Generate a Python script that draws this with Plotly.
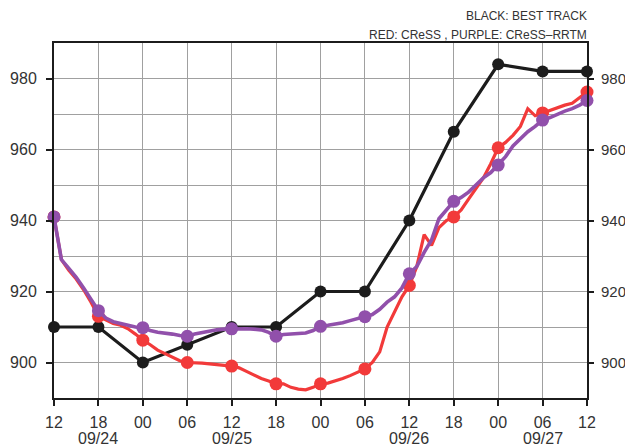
import plotly.graph_objects as go

# hours since 09/24 12UTC
hours = list(range(0, 73))
best_hours = list(range(0, 73, 6))
best_track = [910, 910, 900, 905, 910, 910, 920, 920, 940, 965, 984, 982, 982]

cress = [941, 929, 926, 923.5, 920.5, 917, 913,
         912, 911, 910.5, 909.5, 908, 906.3,
         905, 903.5, 902.5, 901.5, 900.5, 900,
         900, 899.8, 899.6, 899.5, 899.2, 899,
         898.5, 897.5, 896.5, 895.5, 894.8, 894,
         894, 893, 892.5, 892.3, 893, 894,
         894.2, 894.8, 895.5, 896.3, 897.2, 898.2,
         900, 903, 910, 914.5, 918.5, 921.7,
         927, 936, 933, 938, 940, 941,
         943, 946, 949, 952, 956, 960.5,
         962, 964, 966.5, 971.5, 969.5, 970.3,
         971, 971.8, 972.5, 973, 974.5, 976.2]

cress_rrtm = [941, 929, 926.5, 924, 921, 918, 914.6,
              912.5, 911.5, 911, 910.5, 910, 909.8,
              909, 908.5, 908.3, 908, 907.6, 907.4,
              908, 908.4, 909, 909.2, 909.4, 909.5,
              909.6, 909.5, 909.4, 909.2, 908.5, 907.4,
              907.9, 908, 908.1, 908.3, 909, 910.2,
              910.5, 910.8, 911.2, 911.8, 912.3, 912.9,
              913.5, 915, 917, 918.5, 921, 925,
              927, 931, 934.5, 940.5, 943, 945.4,
              946.5, 948, 950, 952, 953.5, 955.6,
              958, 961, 963, 965, 966.5, 968.3,
              969, 970, 970.8, 971.5, 972.5, 973.8]

tick_labels = ["12", "18", "00", "06", "12", "18", "00", "06", "12", "18", "00", "06", "12"]
date_labels = ["09/24", "09/25", "09/26", "09/27"]
date_hours = [6, 24, 48, 66]
y_ticks = [900, 920, 940, 960, 980]
y_minor = [910, 930, 950, 970]

BLACK = "#1c1c1c"
RED = "#f23a3a"
PURPLE = "#9150ab"

fig = go.Figure()
fig.add_trace(go.Scatter(x=best_hours, y=best_track, mode="lines+markers",
                         line=dict(color=BLACK, width=3.2),
                         marker=dict(color=BLACK, size=12), cliponaxis=False))
fig.add_trace(go.Scatter(x=hours, y=cress, mode="lines",
                         line=dict(color=RED, width=3.2), cliponaxis=False))
fig.add_trace(go.Scatter(x=hours[::6], y=cress[::6], mode="markers",
                         marker=dict(color=RED, size=13), cliponaxis=False))
fig.add_trace(go.Scatter(x=hours, y=cress_rrtm, mode="lines",
                         line=dict(color=PURPLE, width=3.6), cliponaxis=False))
fig.add_trace(go.Scatter(x=hours[::6], y=cress_rrtm[::6], mode="markers",
                         marker=dict(color=PURPLE, size=13), cliponaxis=False))
# dummy trace to anchor the right axis
fig.add_trace(go.Scatter(x=[0], y=[940], yaxis="y2", mode="markers",
                         marker=dict(opacity=0), hoverinfo="skip"))

FAM = "Liberation Sans, Arial, sans-serif"
font = dict(family=FAM, size=16, color="#333333")
font_r = dict(family=FAM, size=15, color="#333333")
grid = "#a0a0a0"

# page body has an 8px margin; figure sized so plot area lands at x 54-587, y 43-398
fig.update_layout(
    width=625, height=439,
    margin=dict(l=46, r=46, t=35, b=49),
    plot_bgcolor="white", paper_bgcolor="white",
    showlegend=False,
    font=font,
    xaxis=dict(range=[0, 72], tickvals=best_hours, ticktext=tick_labels,
               showgrid=True, gridcolor=grid, gridwidth=1,
               showline=True, linecolor=BLACK, linewidth=2, mirror=True,
               ticks="outside", ticklen=6, tickcolor=BLACK, tickwidth=1.5,
               ticklabelstandoff=3, automargin=False,
               zeroline=False, tickfont=font),
    yaxis=dict(range=[890, 990], tickvals=y_ticks,
               showgrid=True, gridcolor=grid, gridwidth=1,
               minor=dict(tickvals=y_minor, showgrid=True,
                          gridcolor=grid, gridwidth=1, ticks=""),
               showline=True, linecolor=BLACK, linewidth=2, mirror=True,
               ticks="outside", ticklen=6, tickcolor=BLACK, tickwidth=1.5,
               ticklabelstandoff=6, automargin=False,
               zeroline=False, tickfont=font),
    yaxis2=dict(range=[890, 990], overlaying="y", side="right",
                tickvals=y_ticks, showgrid=False,
                ticks="outside", ticklen=6, tickcolor=BLACK, tickwidth=1.5,
                ticklabelstandoff=4, automargin=False,
                showline=False, zeroline=False, tickfont=font_r),
)

for lbl, h in zip(date_labels, date_hours):
    fig.add_annotation(x=h, y=(398 - 438) / 355, xref="x", yref="paper", text=lbl,
                       showarrow=False, yanchor="middle",
                       font=dict(size=16, color="#333333", family=FAM))

small = dict(family=FAM, size=12, color="#333333")
fig.add_annotation(x=1, y=(398 - 16) / 355, xref="paper", yref="paper",
                   text="BLACK: BEST TRACK", showarrow=False, xanchor="right",
                   yanchor="middle", font=small, xshift=2)
fig.add_annotation(x=1, y=(398 - 35) / 355, xref="paper", yref="paper",
                   text="RED: CReSS , PURPLE: CReSS\u2013RRTM", showarrow=False,
                   xanchor="right", yanchor="middle", font=small, xshift=2)

fig.write_html("out.html")
